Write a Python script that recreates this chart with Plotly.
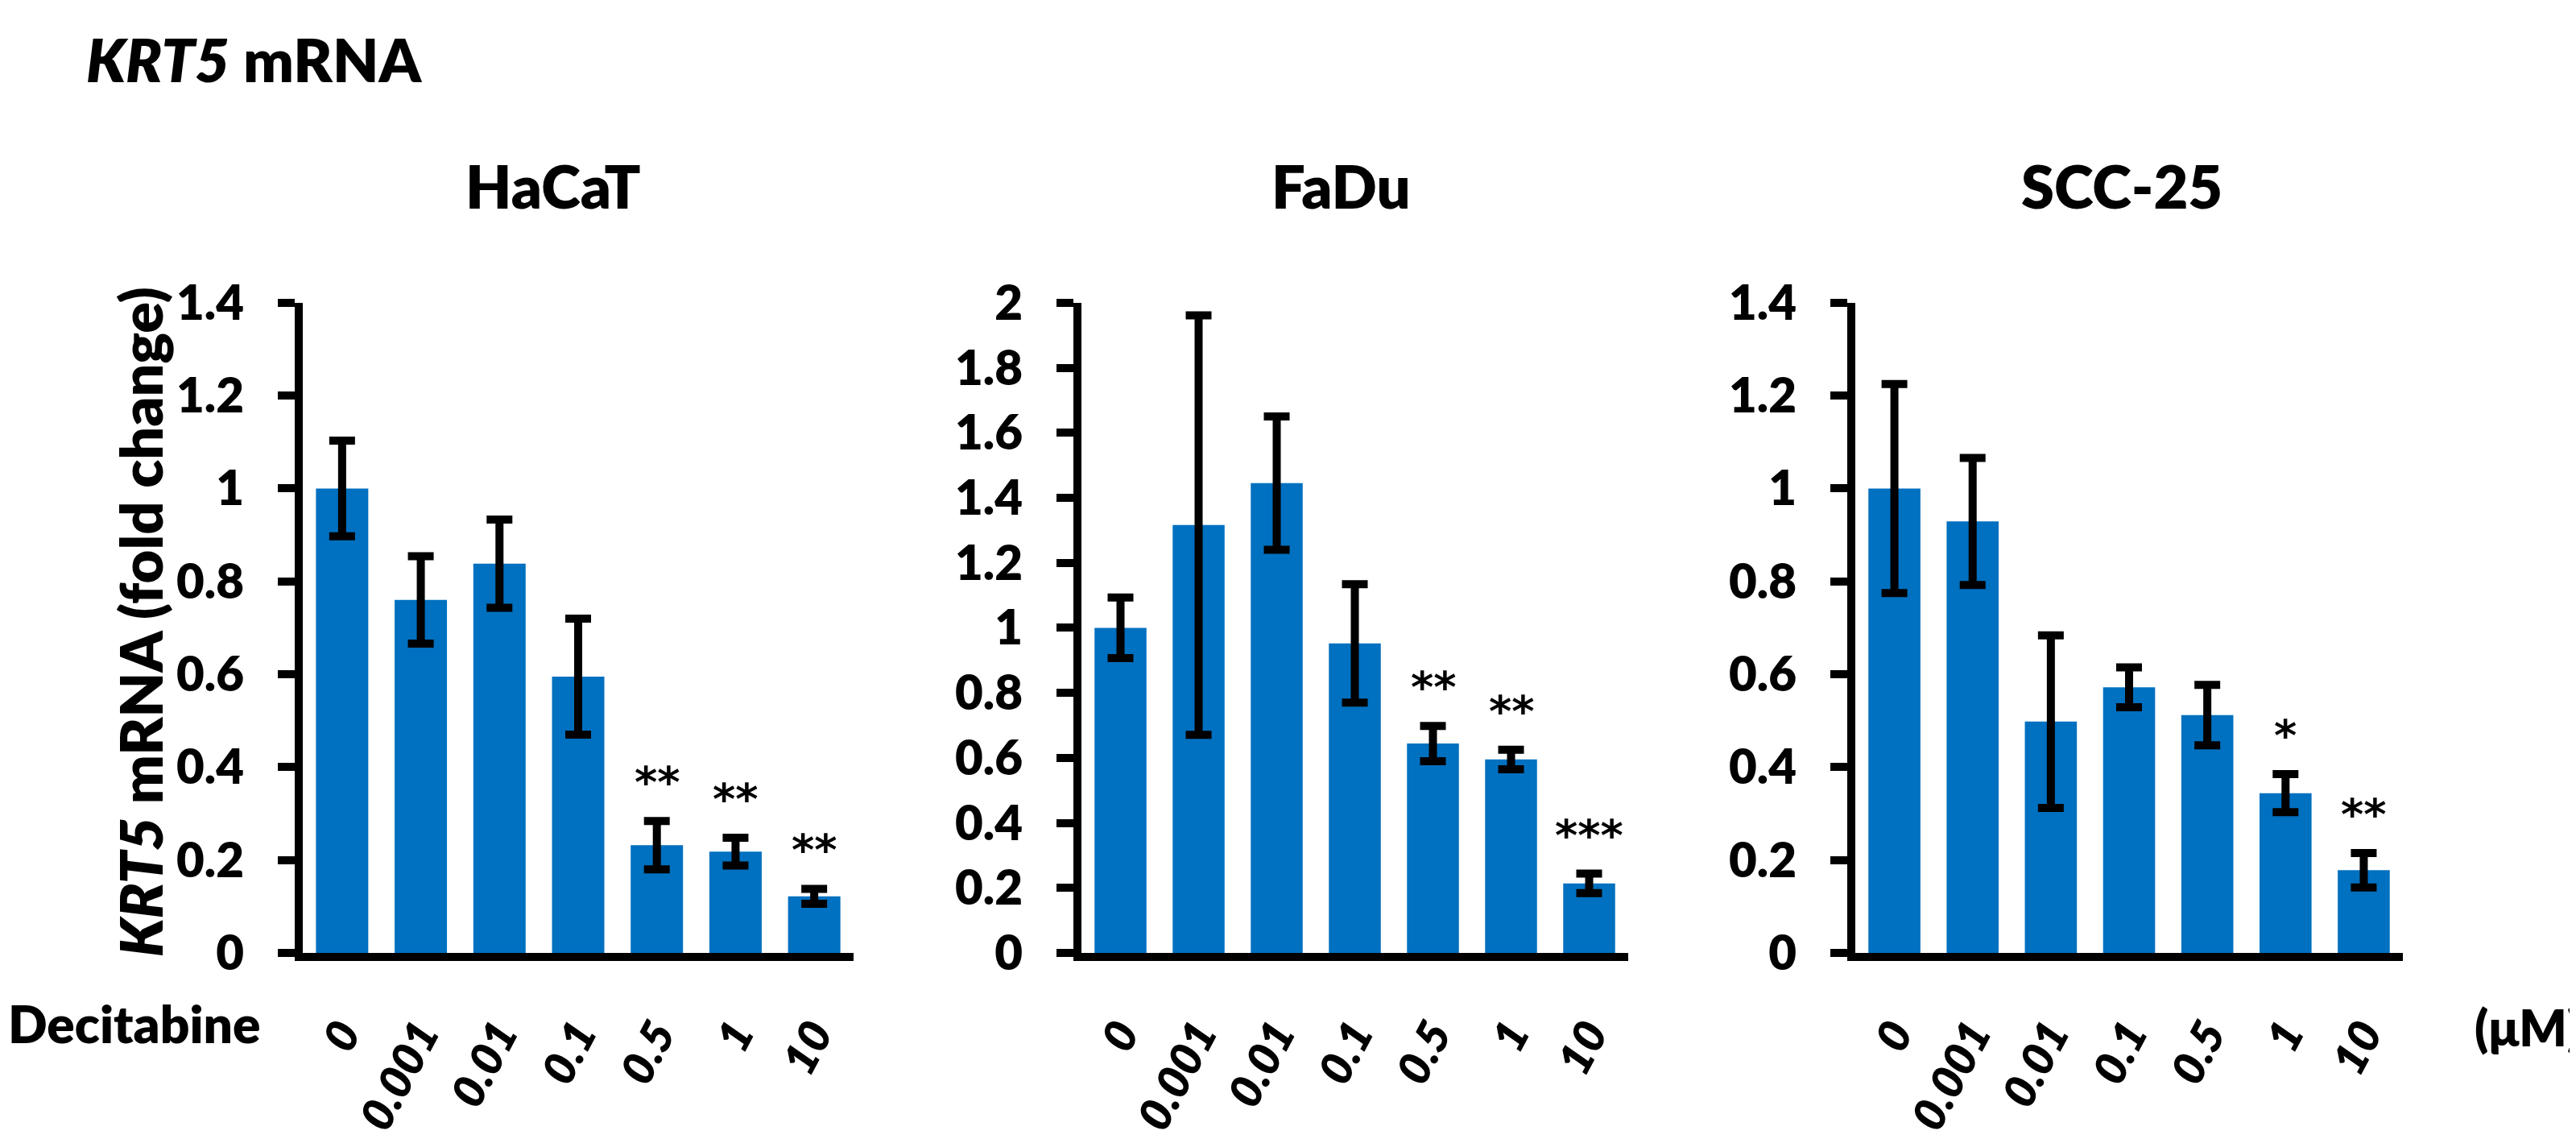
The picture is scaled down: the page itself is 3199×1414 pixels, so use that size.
import plotly.graph_objects as go

# Decitabine doses (uM)
doses = ["0", "0.001", "0.01", "0.1", "0.5", "1", "10"]

cell_lines = ["HaCaT", "FaDu", "SCC-25"]

hacat_mean = [1.0, 0.76, 0.838, 0.595, 0.232, 0.218, 0.122]
hacat_err = [0.103, 0.094, 0.095, 0.125, 0.052, 0.030, 0.016]
hacat_sig = ["", "", "", "", "**", "**", "**"]

fadu_mean = [1.0, 1.316, 1.445, 0.952, 0.644, 0.595, 0.214]
fadu_err = [0.093, 0.645, 0.205, 0.182, 0.054, 0.030, 0.030]
fadu_sig = ["", "", "", "", "**", "**", "***"]

scc25_mean = [1.0, 0.929, 0.498, 0.572, 0.512, 0.344, 0.178]
scc25_err = [0.225, 0.137, 0.186, 0.043, 0.065, 0.041, 0.037]
scc25_sig = ["", "", "", "", "", "*", "**"]

y_max = [1.4, 2, 1.4]

W, H = 3199, 1414
BLUE = "#0070C0"
FONT = "Lato"
WT = 800

# panel placement in pixels (left, right) ; shared bottom/top
panels_px = [(368, 1052), (1335, 2014), (2296, 2976)]
title_cx = [679, 1657, 2627]
y_bot, y_top = 1198, 347.5

means = [hacat_mean, fadu_mean, scc25_mean]
errs = [hacat_err, fadu_err, scc25_err]
sigs = [hacat_sig, fadu_sig, scc25_sig]


def txt(size, **kw):
    return dict(family=FONT, size=size, color="black", weight=WT, **kw)


fig = go.Figure()
annotations = []

for i, name in enumerate(cell_lines):
    n = "" if i == 0 else str(i + 1)
    fig.add_trace(go.Bar(
        x=doses, y=means[i],
        marker=dict(color=BLUE, line=dict(width=0)),
        error_y=dict(type="data", array=errs[i], color="black",
                     thickness=10, width=16),
        xaxis="x" + n, yaxis="y" + n, showlegend=False,
    ))
    l, r = panels_px[i]
    fig.layout["xaxis" + n] = dict(
        domain=[l / W, r / W], anchor="y" + n,
        type="category", range=[-0.5, 6.5],
        showline=True, linewidth=10, linecolor="black",
        ticks="", showgrid=False, tickangle=-62,
        tickfont=txt(56, style="italic"),
        ticklabelstandoff=36,
    )
    fig.layout["yaxis" + n] = dict(
        domain=[1 - y_bot / H, 1 - y_top / H], anchor="x" + n,
        range=[0, y_max[i]], dtick=0.2, tick0=0,
        showline=True, linewidth=10, linecolor="black",
        ticks="outside", ticklen=21, tickwidth=10, tickcolor="black",
        showgrid=False, zeroline=False,
        tickfont=txt(60),
        ticklabelstandoff=30,
    )
    # panel title
    annotations.append(dict(
        text=name, x=title_cx[i] / W, y=1 - 194 / H,
        xref="paper", yref="paper", showarrow=False,
        xanchor="center", yanchor="middle", font=txt(74),
    ))
    # significance stars above the error bars
    for j, (m, e, s) in enumerate(zip(means[i], errs[i], sigs[i])):
        if s:
            annotations.append(dict(
                text="<b>" + s + "</b>", x=j, y=m + e,
                xref="x" + n, yref="y" + n, showarrow=False,
                xanchor="center", yanchor="bottom", yshift=14,
                font=dict(family="DejaVu Sans", size=54, color="black"),
            ))

annotations += [
    dict(text="<i>KRT5</i> mRNA", x=97 / W, y=1 - 29 / H,
         xref="paper", yref="paper", showarrow=False,
         xanchor="left", yanchor="middle", font=txt(74)),
    dict(text="<i>KRT5</i> mRNA (fold change)", x=166 / W, y=1 - 765 / H,
         xref="paper", yref="paper", showarrow=False, textangle=-90,
         xanchor="center", yanchor="middle", font=txt(72)),
    dict(text="Decitabine", x=0, y=1 - 1290 / H,
         xref="paper", yref="paper", showarrow=False,
         xanchor="left", yanchor="middle", font=txt(64)),
    dict(text="(μM)", x=1, y=1 - 1295 / H,
         xref="paper", yref="paper", showarrow=False,
         xanchor="right", yanchor="middle", font=txt(62)),
]

fig.update_layout(
    width=W, height=H, autosize=False,
    margin=dict(l=0, r=0, t=0, b=0),
    paper_bgcolor="white", plot_bgcolor="white",
    bargap=0.335,
    annotations=annotations,
)

fig.write_html("out.html")
